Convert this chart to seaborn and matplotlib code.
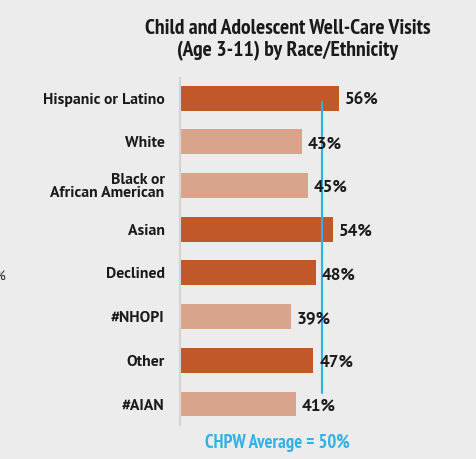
import matplotlib
matplotlib.use("Agg")
import matplotlib.pyplot as plt
import seaborn as sns
import pandas as pd
from matplotlib import font_manager as fm

categories = ["Hispanic or Latino", "White", "Black or\nAfrican American", "Asian",
              "Declined", "#NHOPI", "Other", "#AIAN"]
values = [56, 43, 45, 54, 48, 39, 47, 41]
shade = ["dark", "light", "light", "dark", "dark", "light", "dark", "light"]
average = 50
title = "Child and Adolescent Well-Care Visits\n(Age 3-11) by Race/Ethnicity"
avg_label = "CHPW Average = 50%"

names = {f.name for f in fm.fontManager.ttflist}
narrow = "PT Sans Narrow" if "PT Sans Narrow" in names else "DejaVu Sans"
body = "PT Sans" if "PT Sans" in names else "DejaVu Sans"

bg = "#ebeceb"
dark = "#c0582a"
light = "#d8a58c"
cyan = "#33b1e6"
ink = "#1a1a1a"

sns.set_theme(style="white")
plt.rcParams["font.family"] = [body, "DejaVu Sans"]

df = pd.DataFrame({"cat": categories, "val": values, "shade": shade})

fig = plt.figure(figsize=(4.77, 4.59), dpi=100, facecolor=bg)
ax = fig.add_axes([180 / 477, 34 / 459, 284 / 477, 347 / 459])
ax.set_facecolor(bg)

sns.barplot(data=df, x="val", y="cat", hue="shade", palette={"dark": dark, "light": light},
            dodge=False, width=0.57, legend=False, ax=ax, orient="h",
            saturation=1, linewidth=0)

ax.set_xlim(0, 100)
ax.set_ylim(7.48, -0.46)
ax.set_xlabel("")
ax.set_ylabel("")
ax.set_xticks([])
ax.tick_params(axis="y", length=0, pad=11)
for lab in ax.get_yticklabels():
    lab.set_fontweight("bold")
    lab.set_fontsize(11.3)
    lab.set_color(ink)
    lab.set_linespacing(0.95)
for s in ["top", "right", "bottom"]:
    ax.spines[s].set_visible(False)
ax.spines["left"].set_color("#d4d4d4")
ax.spines["left"].set_linewidth(1.5)

for i, v in enumerate(values):
    ax.text(v + 2.0, i + 0.05, f"{v}%", ha="left", va="center", fontsize=12.3,
            fontweight="bold", color=ink, zorder=5)

ax.plot([average, average], [0.09, 6.75], color=cyan, lw=1.5, zorder=4)

fig.text(288 / 477, 1 - 40 / 459, title, ha="center", va="center", fontsize=15.6,
         fontweight="bold", family=[narrow, "DejaVu Sans"], color=ink, linespacing=1.15)
fig.text(277 / 477, 1 - 443 / 459, avg_label, ha="center", va="center", fontsize=13.4,
         fontweight="bold", family=[narrow, "DejaVu Sans"], color=cyan)
fig.text(0.0, 1 - 276 / 459, "%", ha="center", va="center", fontsize=10, color=ink)

fig.savefig("out.png", dpi=100, facecolor=bg)
